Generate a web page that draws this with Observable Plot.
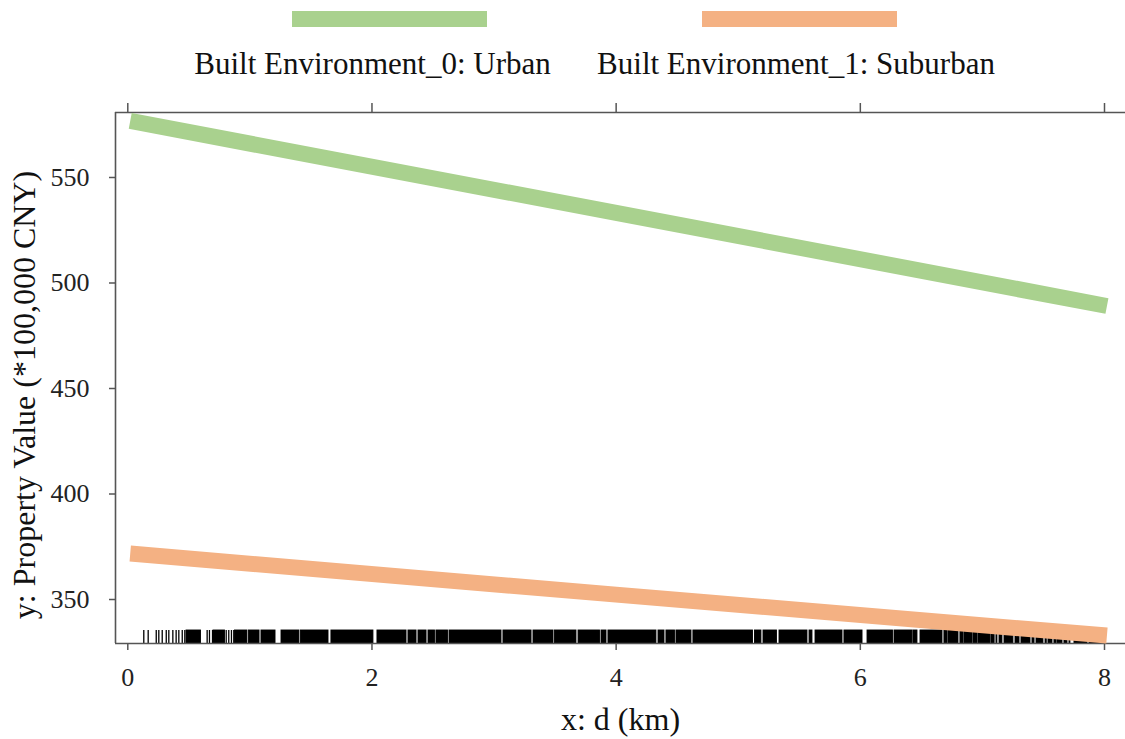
<!DOCTYPE html>
<html><head><meta charset="utf-8">
<script src="https://cdn.jsdelivr.net/npm/d3@7"></script>
<script src="https://cdn.jsdelivr.net/npm/@observablehq/plot@0.6"></script>
<style>
body{margin:0;background:#fff;font-family:"Liberation Serif","Times New Roman",serif;}
#chart{width:1125px;}
svg{display:block;}
</style></head><body><div id="chart"></div>
<script>
const seriesNames = ["Built Environment_0: Urban", "Built Environment_1: Suburban"];
const seriesColors = ["#A9D18E", "#F4B183"];
const dValues = [0.02, 4.0, 8.02];
const urbanValues = [576.8, 533.2, 489.1];
const suburbanValues = [371.8, 352.3, 332.9];
const xTicks = [0, 2, 4, 6, 8];
const yTicks = [350, 400, 450, 500, 550];
const xDomain = [-0.1007, 8.172];
const yDomain = [329.15, 580.8];
const xLabel = "x: d (km)";
const yLabel = "y: Property Value (*100,000 CNY)";
const rugTicks = [0.131,0.167,0.233,0.254,0.282,0.315,0.336,0.369,0.396,0.418,0.446,0.467,0.650,0.669,0.694,0.806,0.827,0.849,0.868];
const rugSpans = [
[0.481,0.600],[0.702,0.796],[0.878,0.980],[0.993,1.079],[1.095,1.210],[1.259,1.406],[1.419,1.644],[1.668,2.012],[2.045,2.283],[2.299,2.365],[2.381,2.447],[2.463,2.516],[2.528,2.623],[2.635,3.061],[3.077,3.307],[3.323,3.487],[3.499,3.675],[3.692,3.868],[3.880,3.921],[3.937,4.330],[4.347,4.396],[4.412,4.482],[4.494,4.617],[4.633,5.121],[5.137,5.190],[5.207,5.317],[5.338,5.567],[5.584,5.608],[5.633,5.854],[5.870,6.018],[6.059,6.268],[6.280,6.427],[6.435,6.468],[6.493,6.673],[6.689,6.714],[6.722,6.804],[6.820,6.845],[6.853,6.919],[6.927,6.960],[6.968,7.066],[7.074,7.100],[7.115,7.123],[7.140,7.164],[7.181,7.254],[7.271,7.304],[7.320,7.394],[7.410,7.427],[7.443,7.500],[7.517,7.527],[7.541,7.574],[7.590,7.607],[7.615,7.656],[7.672,7.697],[7.713,7.721],[7.754,7.861],[7.877,7.983]
];

const lineData = [];
dValues.forEach((d, i) => {
  lineData.push({d, v: urbanValues[i], s: seriesNames[0]});
  lineData.push({d, v: suburbanValues[i], s: seriesNames[1]});
});

// Legend
const legend = d3.create("svg").attr("width", 1125).attr("height", 92);
const swatchX = [292, 702];
const labelCX = [372.5, 796];
seriesNames.forEach((name, i) => {
  legend.append("rect").attr("x", swatchX[i]).attr("y", 11).attr("width", 195).attr("height", 16).attr("fill", seriesColors[i]);
  legend.append("text").attr("x", labelCX[i]).attr("y", 74).attr("text-anchor", "middle")
    .attr("font-family", "Liberation Serif, Times New Roman, serif").attr("font-size", 31).attr("fill", "#111").text(name);
});
document.getElementById("chart").appendChild(legend.node());

const plot = Plot.plot({
  width: 1125, height: 647,
  marginTop: 20, marginBottom: 96, marginLeft: 115, marginRight: 0,
  style: {fontFamily: "Liberation Serif, Times New Roman, serif", fontSize: "26px", color: "#222", background: "#fff", overflow: "visible"},
  x: {domain: xDomain, label: null},
  y: {domain: yDomain, label: null},
  color: {domain: seriesNames, range: seriesColors},
  marks: [
    Plot.rect(rugSpans, {x1: d => d[0], x2: d => d[1], fill: "#000", stroke: "#000", strokeWidth: 0.9, insetTop: 518}),
    Plot.ruleX(rugTicks, {stroke: "#000", strokeWidth: 1.3, insetTop: 518}),
    Plot.ruleX([xDomain[0]], {stroke: "#555", strokeWidth: 1.6}),
    Plot.ruleY([yDomain[0], yDomain[1]], {stroke: "#555", strokeWidth: 1.6}),
    Plot.axisX({anchor: "bottom", ticks: xTicks, tickSize: 7, tickFormat: () => "", stroke: "#555", strokeWidth: 1.5, label: null}),
    Plot.axisX({anchor: "top", ticks: xTicks, tickSize: 10, tickFormat: () => "", stroke: "#555", strokeWidth: 1.5, label: null}),
    Plot.axisY({anchor: "left", ticks: yTicks, tickSize: 6, tickFormat: () => "", stroke: "#555", strokeWidth: 1.5, label: null}),
    Plot.text(xTicks, {x: d => d, text: d => String(d), frameAnchor: "bottom", lineAnchor: "top", dy: 24.5, fontSize: 26, fill: "#222"}),
    Plot.text(yTicks, {y: d => d, text: d => String(d), frameAnchor: "left", textAnchor: "end", dx: -26, fontSize: 26, fill: "#222"}),
    Plot.line(lineData, {x: "d", y: "v", z: "s", stroke: "s", strokeWidth: 16, strokeLinecap: "butt"}),
    Plot.text([xLabel], {text: d => d, frameAnchor: "bottom", lineAnchor: "bottom", dy: 86, fontSize: 32, fill: "#111"}),
    Plot.text([yLabel], {text: d => d, frameAnchor: "left", textAnchor: "middle", lineAnchor: "bottom", rotate: -90, dx: -81, dy: 17, fontSize: 32, fill: "#111"})
  ]
});
document.getElementById("chart").appendChild(plot);
</script></body></html>
